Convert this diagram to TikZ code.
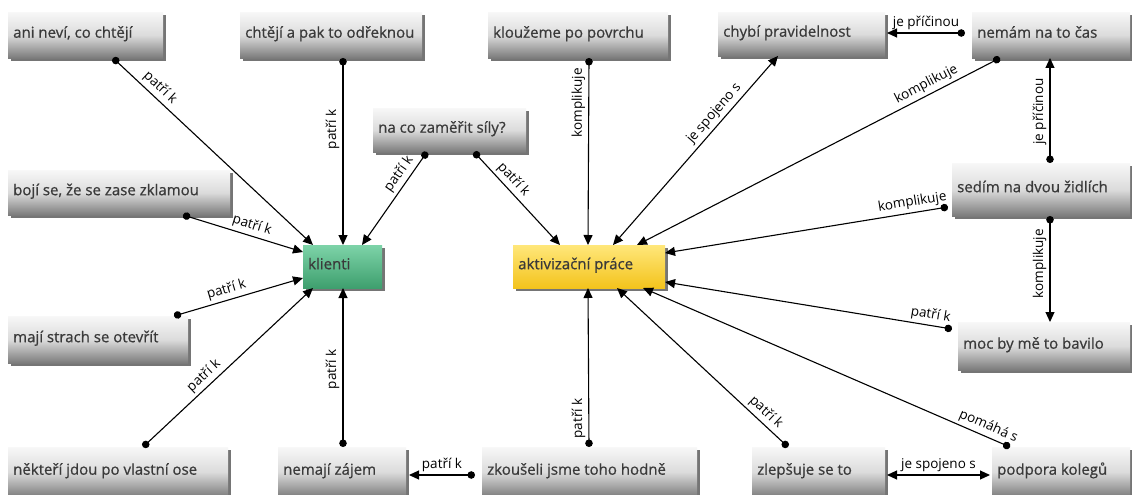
\documentclass[tikz,border=0pt]{standalone}
\usepackage{fontspec}
\setmainfont{Open Sans}
\newfontfamily\boxfont[FakeBold=0.7]{Open Sans}
\usetikzlibrary{arrows.meta,calc,shadows}
\definecolor{txt}{HTML}{3A3A3A}
\definecolor{gtop}{HTML}{7DD3A8}
\definecolor{gbot}{HTML}{3E9F6E}
\definecolor{ytop}{HTML}{FFE77A}
\definecolor{ybot}{HTML}{F3C31C}
\newcommand\boxtxt[2]{\makebox[#1][l]{#2}}
\tikzset{
  bx/.style={anchor=north west, inner xsep=5pt, inner ysep=0pt,
    font=\boxfont\fontsize{15}{18}\selectfont, text=txt,
    text height=10pt, text depth=5pt,
    drop shadow={shadow xshift=3pt, shadow yshift=-3pt, fill=black!60, opacity=0.9}},
  gbx/.style={bx, top color=black!3, bottom color=black!52, middle color=black!14},
  grn/.style={bx, top color=gtop, bottom color=gbot},
  ylw/.style={bx, top color=ytop, bottom color=ybot},
  con/.style={line width=1.1pt, draw=black, {Circle[length=7.5pt]}-{Triangle[length=10pt,width=9pt]}},
  bi/.style={line width=1.1pt, draw=black, {Triangle[length=10pt,width=9pt]}-{Triangle[length=10pt,width=9pt]}},
  lbl/.style={font=\fontsize{13.5}{15}\selectfont, text=black, inner sep=3pt},
  vl/.style={lbl, rotate=90, anchor=south}
}
\begin{document}
\begin{tikzpicture}[x=1pt,y=-1pt]
\useasboundingbox (0,0) rectangle (1132,495);
\fill[white] (0,0) rectangle (1132,495);
% boxes
\node[gbx, minimum height=46pt] (A) at (8,12) {\boxtxt{145pt}{ani neví, co chtějí}};
\node[gbx, minimum height=46pt] (B) at (240,12) {\boxtxt{172pt}{chtějí a pak to odřeknou}};
\node[gbx, minimum height=46pt] (C) at (488,12) {\boxtxt{170pt}{kloužeme po povrchu}};
\node[gbx, minimum height=44pt] (D) at (718,12) {\boxtxt{157pt}{chybí pravidelnost}};
\node[gbx, minimum height=46pt] (E) at (972,12) {\boxtxt{148pt}{nemám na to čas}};
\node[gbx, minimum height=44pt] (F) at (373,108) {\boxtxt{143pt}{na co zaměřit síly?}};
\node[gbx, minimum height=45pt] (G) at (8,170) {\boxtxt{212pt}{bojí se, že se zase zklamou}};
\node[gbx, minimum height=53pt] (H) at (952,163) {\boxtxt{168pt}{sedím na dvou židlích}};
\node[grn, minimum height=43pt] (K) at (303,245) {\boxtxt{69pt}{klienti}};
\node[ylw, minimum height=43pt] (P) at (513,245) {\boxtxt{142pt}{aktivizační práce}};
\node[gbx, minimum height=47pt] (M) at (8,316) {\boxtxt{170pt}{mají strach se otevřít}};
\node[gbx, minimum height=48pt] (Q) at (958,322) {\boxtxt{162pt}{moc by mě to bavilo}};
\node[gbx, minimum height=50pt] (N) at (8,447) {\boxtxt{210pt}{někteří jdou po vlastní ose}};
\node[gbx, minimum height=50pt] (Z) at (278,447) {\boxtxt{118pt}{nemají zájem}};
\node[gbx, minimum height=50pt] (S) at (482,447) {\boxtxt{205pt}{zkoušeli jsme toho hodně}};
\node[gbx, minimum height=50pt] (L) at (752,447) {\boxtxt{123pt}{zlepšuje se to}};
\node[gbx, minimum height=50pt] (R) at (992,447) {\boxtxt{128pt}{podpora kolegů}};
% connectors to klienti
\draw[con] ($(A.north west)+(105,46)$) -- node[lbl,sloped,above,pos=0.2]{patří k} ($(K.north west)+(10,0)$);
\draw[con] ($(B.north west)+(103,46)$) -- node[vl,pos=0.38]{patří k} ($(K.north west)+(40,0)$);
\draw[con] ($(F.north west)+(54,44)$) -- node[lbl,sloped,above,pos=0.3]{patří k} ($(K.north west)+(59,0)$);
\draw[con] ($(G.north west)+(175,45)$) -- node[lbl,sloped,above,pos=0.55]{patří k} ($(K.north west)+(0,7)$);
\draw[con] ($(M.north west)+(166,0)$) -- node[lbl,sloped,above,pos=0.43]{patří k} ($(K.north west)+(0,33)$);
\draw[con] ($(N.north west)+(135,0)$) -- node[lbl,sloped,above,pos=0.4]{patří k} ($(K.north west)+(10,43)$);
\draw[con] ($(Z.north west)+(65,0)$) -- node[vl,pos=0.49]{patří k} ($(K.north west)+(40,43)$);
\draw[con] ($(S.north west)+(-7,28)$) -- node[lbl,above,pos=0.5]{patří k} ($(Z.north west)+(131,28)$);
% connectors to aktivizační práce
\draw[con] ($(F.north west)+(101,44)$) -- node[lbl,sloped,above,pos=0.37]{patří k} ($(P.north west)+(47,0)$);
\draw[con] ($(C.north west)+(101,46)$) -- node[vl,pos=0.24]{komplikuje} ($(P.north west)+(75,0)$);
\draw[bi] ($(P.north west)+(100,0)$) -- node[lbl,sloped,above,pos=0.66]{je spojeno s} ($(D.north west)+(60,44)$);
\draw[con] ($(E.north west)+(28,46)$) -- node[lbl,sloped,above,pos=0.19]{komplikuje} ($(P.north west)+(124,0)$);
\draw[con] ($(H.north west)+(-4,44)$) -- node[lbl,sloped,above,pos=0.12]{komplikuje} ($(P.north west)+(152,8)$);
\draw[con] ($(Q.north west)+(-6,7)$) -- node[lbl,sloped,above,pos=0.08]{patří k} ($(P.north west)+(152,37)$);
\draw[con] ($(S.north west)+(107,0)$) -- node[vl,pos=0.18]{patří k} ($(P.north west)+(75,43)$);
\draw[con] ($(L.north west)+(36,0)$) -- node[lbl,sloped,above,pos=0.17]{patří k} ($(P.north west)+(104,43)$);
\draw[con] ($(R.north west)+(18,0)$) -- node[lbl,sloped,above,pos=0.07]{pomáhá s} ($(P.north west)+(130,43)$);
% other connectors
\draw[con] ($(E.north west)+(-7,21)$) -- node[lbl,above,pos=0.5]{je příčinou} ($(D.north west)+(169,21)$);
\draw[con] ($(H.north west)+(98,0)$) -- node[vl,pos=0.49]{je příčinou} ($(E.north west)+(78,46)$);
\draw[con] ($(H.north west)+(98,53)$) -- node[vl,pos=0.45]{komplikuje} ($(Q.north west)+(92,0)$);
\draw[bi] ($(L.north west)+(135,28)$) -- node[lbl,above,pos=0.5]{je spojeno s} ($(R.north west)+(-2,28)$);
\end{tikzpicture}
\end{document}
